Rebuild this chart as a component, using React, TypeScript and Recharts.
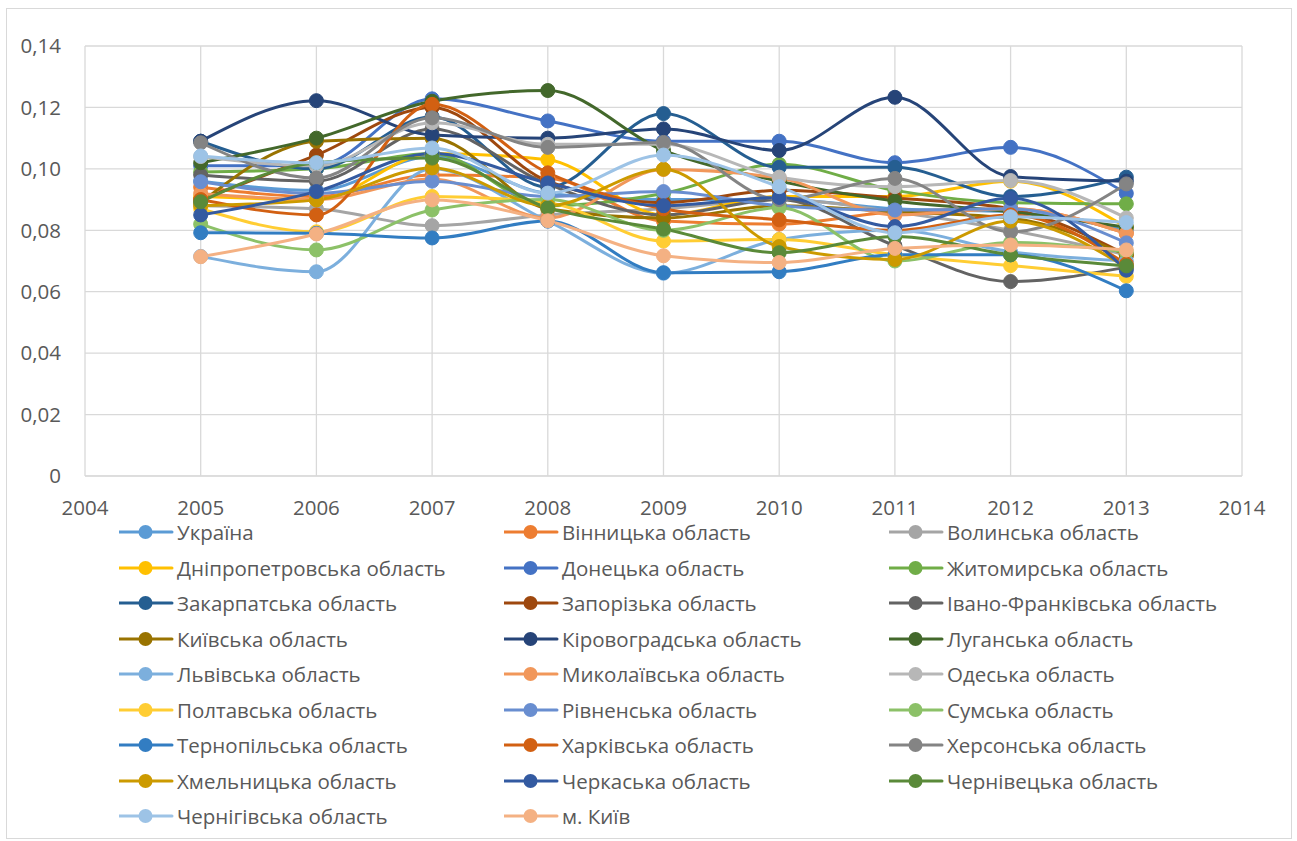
import { LineChart, Line, XAxis, YAxis, CartesianGrid } from 'recharts';

const years = [2005, 2006, 2007, 2008, 2009, 2010, 2011, 2012, 2013];
const xTicks = [2004, 2005, 2006, 2007, 2008, 2009, 2010, 2011, 2012, 2013, 2014];
const yTicks = [0, 0.02, 0.04, 0.06, 0.08, 0.1, 0.12, 0.14];

const names = [
    'Україна', 'Вінницька область', 'Волинська область',
    'Дніпропетровська область', 'Донецька область', 'Житомирська область',
    'Закарпатська область', 'Запорізька область', 'Івано-Франківська область',
    'Київська область', 'Кіровоградська область', 'Луганська область',
    'Львівська область', 'Миколаївська область', 'Одеська область',
    'Полтавська область', 'Рівненська область', 'Сумська область',
    'Тернопільська область', 'Харківська область', 'Херсонська область',
    'Хмельницька область', 'Черкаська область', 'Чернівецька область',
    'Чернігівська область', 'м. Київ',
];

const colors = [
    '#5B9BD5', '#ED7D31', '#A5A5A5', '#FFC000', '#4472C4', '#70AD47',
    '#255E91', '#9E480E', '#636363', '#997300', '#264478', '#43682B',
    '#7CAFDD', '#F1975A', '#B7B7B7', '#FFCD33', '#698ED0', '#8CC168',
    '#327DC2', '#D26012', '#848484', '#CC9A00', '#335AA1', '#5A8A39',
    '#9DC3E6', '#F4B183',
];

const ukraine = [0.096, 0.093, 0.104, 0.092, 0.09, 0.09, 0.087, 0.086, 0.08];
const vinnytsia = [0.094, 0.091, 0.098, 0.097, 0.083, 0.082, 0.086, 0.087, 0.079];
const volyn = [0.088, 0.087, 0.0815, 0.085, 0.087, 0.09, 0.086, 0.08, 0.072];
const dnipro = [0.091, 0.09, 0.105, 0.103, 0.085, 0.091, 0.091, 0.096, 0.081];
const donetsk = [0.101, 0.101, 0.1228, 0.1156, 0.109, 0.109, 0.102, 0.107, 0.092];
const zhytomyr = [0.099, 0.1, 0.105, 0.088, 0.092, 0.1015, 0.093, 0.089, 0.0886];
const zakarpattia = [0.109, 0.1, 0.117, 0.094, 0.118, 0.1005, 0.1005, 0.091, 0.0973];
const zaporizhzhia = [0.09, 0.1045, 0.12, 0.096, 0.089, 0.093, 0.0905, 0.087, 0.072];
const ivanoFrankivsk = [0.098, 0.096, 0.113, 0.095, 0.085, 0.09, 0.075, 0.0633, 0.068];
const kyivObl = [0.089, 0.109, 0.11, 0.087, 0.084, 0.088, 0.086, 0.084, 0.072];
const kirovohrad = [0.109, 0.1222, 0.111, 0.11, 0.113, 0.106, 0.1233, 0.0975, 0.096];
const luhansk = [0.102, 0.11, 0.122, 0.1255, 0.106, 0.096, 0.0895, 0.086, 0.081];
const lviv = [0.0715, 0.0665, 0.1, 0.083, 0.066, 0.077, 0.08, 0.073, 0.07];
const mykolaiv = [0.092, 0.09, 0.0967, 0.084, 0.0998, 0.097, 0.085, 0.087, 0.079];
const odesa = [0.104, 0.101, 0.115, 0.108, 0.108, 0.0973, 0.0942, 0.0962, 0.084];
const poltava = [0.087, 0.0795, 0.091, 0.089, 0.0765, 0.077, 0.072, 0.0685, 0.065];
const rivne = [0.0958, 0.092, 0.096, 0.091, 0.0926, 0.088, 0.0866, 0.087, 0.0759];
const sumy = [0.082, 0.0736, 0.0866, 0.09, 0.08, 0.0873, 0.07, 0.076, 0.073];
const ternopil = [0.0792, 0.079, 0.0775, 0.083, 0.0662, 0.0665, 0.072, 0.072, 0.0603];
const kharkiv = [0.09, 0.085, 0.121, 0.0987, 0.087, 0.0834, 0.08, 0.085, 0.069];
const kherson = [0.1085, 0.097, 0.1166, 0.107, 0.1086, 0.09, 0.0969, 0.0795, 0.0951];
const khmelnytskyi = [0.088, 0.0899, 0.1003, 0.088, 0.0999, 0.0747, 0.0705, 0.083, 0.068];
const cherkasy = [0.085, 0.0926, 0.105, 0.0954, 0.088, 0.0907, 0.0812, 0.0904, 0.067];
const chernivtsi = [0.0893, 0.102, 0.1035, 0.0873, 0.0804, 0.0727, 0.078, 0.072, 0.0684];
const chernihiv = [0.1042, 0.102, 0.1068, 0.0921, 0.1045, 0.0942, 0.0792, 0.0844, 0.0825];
const kyivCity = [0.0714, 0.0788, 0.0899, 0.0831, 0.0717, 0.0695, 0.0741, 0.0752, 0.0736];

const series = [
    ukraine, vinnytsia, volyn, dnipro, donetsk, zhytomyr, zakarpattia, zaporizhzhia,
    ivanoFrankivsk, kyivObl, kirovohrad, luhansk, lviv, mykolaiv, odesa, poltava, rivne,
    sumy, ternopil, kharkiv, kherson, khmelnytskyi, cherkasy, chernivtsi, chernihiv, kyivCity,
];

const rows = years.map((year, i) => {
    const row: Record<string, number> = { year };
    series.forEach((s, k) => { row[`s${k}`] = s[i]; });
    return row;
});

const FONT = '"Open Sans", "Liberation Sans", sans-serif';
const TEXT = '#595959';
const GRID = '#d9d9d9';

const fmt = (v: number) => (v === 0 ? '0' : v.toFixed(2).replace('.', ','));

function LegendBlock() {
    return (
        <div style={{ position: 'absolute', left: 112, top: 505, width: 1170 }}>
            {names.map((n, k) => {
                const col = k % 3;
                const row = Math.floor(k / 3);
                return (
                    <div key={n} style={{
                        position: 'absolute', left: col * 385, top: row * 35.5, height: 36,
                        display: 'flex', alignItems: 'center', whiteSpace: 'nowrap',
                    }}>
                        <svg width={58} height={20}>
                            <line x1={0} y1={10} x2={53} y2={10} stroke={colors[k]} strokeWidth={3} strokeLinecap="round" />
                            <circle cx={26.5} cy={10} r={7} fill={colors[k]} />
                        </svg>
                        <span style={{ fontFamily: FONT, fontSize: 20.5, color: TEXT }}>{n}</span>
                    </div>
                );
            })}
        </div>
    );
}

export default function App() {
    return (
        <div style={{
            position: 'absolute', left: 6, top: 8, width: 1284, height: 829,
            border: `1px solid ${GRID}`, background: '#fff',
        }}>
            <LineChart width={1284} height={829} data={rows}
                margin={{ top: 37, right: 49, bottom: 332, left: 0 }}>
                <CartesianGrid stroke={GRID} strokeWidth={1.3} />
                <XAxis dataKey="year" type="number" domain={[2004, 2014]} ticks={xTicks}
                    height={30} tickSize={0} tickMargin={24} axisLine={{ stroke: GRID }}
                    tick={{ fill: TEXT, fontSize: 20.5, fontFamily: FONT }} />
                <YAxis type="number" domain={[0, 0.14]} ticks={yTicks} tickFormatter={fmt}
                    width={78} tickSize={0} tickMargin={24} axisLine={false}
                    tick={{ fill: TEXT, fontSize: 20.5, fontFamily: FONT }} />
                {series.map((_, k) => (
                    <Line key={k} dataKey={`s${k}`} type="monotone" stroke={colors[k]} strokeWidth={3}
                        dot={{ r: 7, fill: colors[k], stroke: colors[k], strokeWidth: 1 }}
                        activeDot={false} isAnimationActive={false} />
                ))}
            </LineChart>
            <LegendBlock />
        </div>
    );
}
